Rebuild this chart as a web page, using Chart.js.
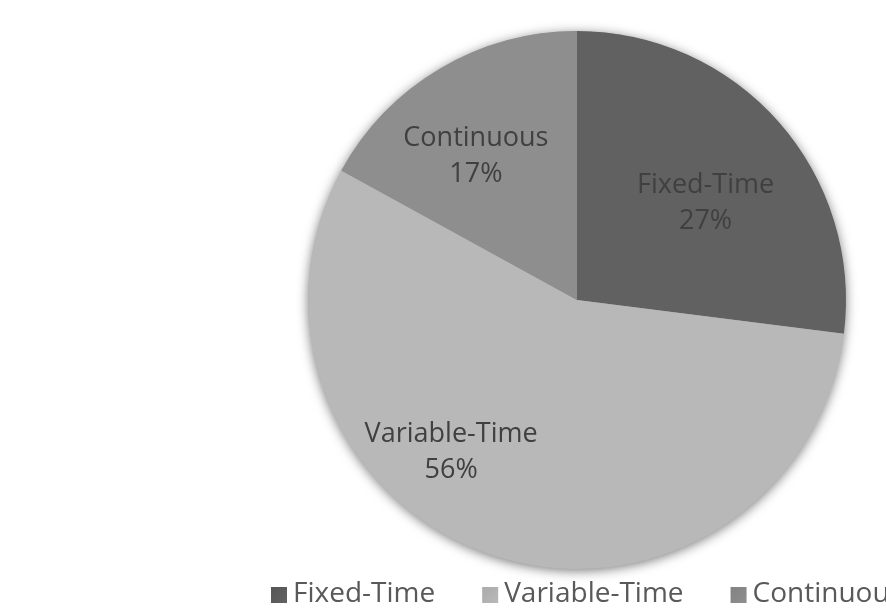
<!DOCTYPE html>
<html>
<head>
<meta charset="utf-8">
<script src="https://cdn.jsdelivr.net/npm/chart.js@4.4.1/dist/chart.umd.min.js"></script>
<style>
  html, body { margin: 0; padding: 0; background: #ffffff; overflow: hidden; }
  #wrap { width: 886px; height: 610px; position: relative; }
</style>
</head>
<body>
<div id="wrap"><canvas id="chart" width="886" height="610"></canvas></div>
<script>
// Share of timing schedules
const categories = ['Fixed-Time', 'Variable-Time', 'Continuous'];
const shares = [27, 56, 17];

// Slice shading: colour at the centre and at the rim
const innerColors = ['#616161', '#b8b8b8', '#8e8e8e'];
const outerColors = ['#565656', '#aaaaaa', '#828282'];
// Label anchors, in units of the pie radius from its centre
const labelAnchors = [[0.478, -0.36], [-0.468, 0.565], [-0.376, -0.535]];

const FONT = '"Open Sans", "DejaVu Sans", sans-serif';

function sliceFill(ctx) {
  const chart = ctx.chart;
  const meta = chart.getDatasetMeta(0);
  const arc = meta.data[ctx.dataIndex];
  if (!arc || !arc.outerRadius) return innerColors[ctx.dataIndex];
  const g = chart.ctx.createRadialGradient(arc.x, arc.y, 0, arc.x, arc.y, arc.outerRadius);
  g.addColorStop(0, innerColors[ctx.dataIndex]);
  g.addColorStop(1, outerColors[ctx.dataIndex]);
  return g;
}

// Soft drop shadow behind the pie
const shadowPlugin = {
  id: 'pieShadow',
  beforeDatasetsDraw(chart) {
    const arc = chart.getDatasetMeta(0).data[0];
    if (!arc) return;
    const c = chart.ctx;
    c.save();
    c.shadowColor = 'rgba(0,0,0,0.55)';
    c.shadowBlur = 12;
    c.shadowOffsetX = 0;
    c.shadowOffsetY = 2;
    c.fillStyle = '#9a9a9a';
    c.beginPath();
    c.arc(arc.x, arc.y, arc.outerRadius - 0.5, 0, Math.PI * 2);
    c.fill();
    c.restore();
  }
};

// Category name and percentage inside each slice
const sliceLabels = {
  id: 'sliceLabels',
  afterDatasetsDraw(chart) {
    const meta = chart.getDatasetMeta(0);
    const total = shares.reduce((a, b) => a + b, 0);
    const c = chart.ctx;
    c.save();
    c.font = '27px ' + FONT;
    c.fillStyle = '#404040';
    c.textAlign = 'center';
    c.textBaseline = 'middle';
    meta.data.forEach((arc, i) => {
      const r = arc.outerRadius;
      const x = arc.x + labelAnchors[i][0] * r;
      const y = arc.y + labelAnchors[i][1] * r;
      const pct = Math.round(shares[i] / total * 100) + '%';
      c.fillText(categories[i], x, y - 18);
      c.fillText(pct, x, y + 18);
    });
    c.restore();
  }
};

// Legend row along the bottom
const bottomLegend = {
  id: 'bottomLegend',
  afterDraw(chart) {
    const c = chart.ctx;
    c.save();
    c.font = '28px ' + FONT;
    c.textBaseline = 'middle';
    c.textAlign = 'left';
    let x = 271;
    const y = 594;
    const box = 16;
    categories.forEach((name, i) => {
      const g = c.createLinearGradient(x, y - box / 2, x + box, y + box / 2);
      g.addColorStop(0, outerColors[i]);
      g.addColorStop(1, innerColors[i]);
      c.fillStyle = g;
      c.fillRect(x, y - box / 2 + 1, box, box);
      c.fillStyle = '#595959';
      const tx = x + box + 6;
      c.fillText(name, tx, y);
      x = tx + c.measureText(name).width + 47;
    });
    c.restore();
  }
};

new Chart(document.getElementById('chart'), {
  type: 'pie',
  data: {
    labels: categories,
    datasets: [{
      data: shares,
      backgroundColor: sliceFill,
      borderWidth: 0,
      hoverOffset: 0
    }]
  },
  options: {
    responsive: false,
    animation: false,
    rotation: 0,
    layout: { padding: { left: 308, right: 40, top: 31, bottom: 41 } },
    plugins: {
      legend: { display: false },
      tooltip: { enabled: false }
    },
    events: []
  },
  plugins: [shadowPlugin, sliceLabels, bottomLegend]
});
</script>
</body>
</html>
